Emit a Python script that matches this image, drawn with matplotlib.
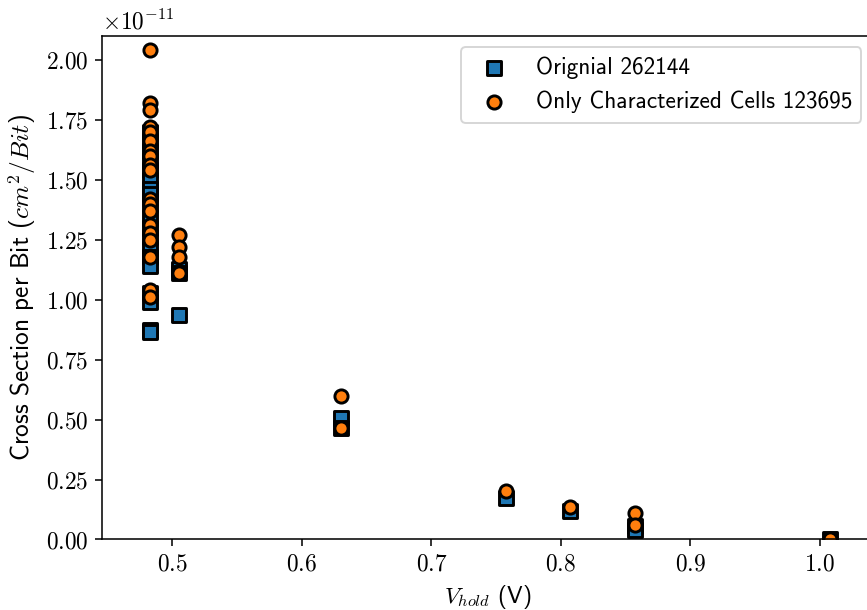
import matplotlib.pyplot as plt
import numpy as np

# Cross section per bit vs hold voltage (values in cm^2/Bit)
# Original: all 262144 cells
x_orig = [0.483] * 19 + [0.505] * 3 + [0.63] * 2 + [0.758, 0.807] + [0.857] * 2 + [1.008]
y_orig = [1.70, 1.66, 1.62, 1.58, 1.54, 1.50, 1.46, 1.44, 1.40, 1.34, 1.30, 1.26,
          1.21, 1.18, 1.14, 1.03, 0.99, 0.875, 0.865,
          1.13, 1.11, 0.936,
          0.507, 0.467,
          0.172, 0.118,
          0.055, 0.040,
          0.0]

# Only characterized cells 123695
x_char = [0.483] * 19 + [0.505] * 4 + [0.63] * 2 + [0.758, 0.807] + [0.857] * 2 + [1.008]
y_char = [2.04, 1.82, 1.79, 1.72, 1.70, 1.66, 1.62, 1.60, 1.56, 1.54, 1.42, 1.40,
          1.37, 1.31, 1.28, 1.25, 1.18, 1.04, 1.01,
          1.27, 1.22, 1.18, 1.11,
          0.598, 0.464,
          0.202, 0.134,
          0.109, 0.060,
          0.0]

y_orig = np.array(y_orig) * 1e-11
y_char = np.array(y_char) * 1e-11

# Computer Modern look (no LaTeX available)
plt.rcParams['font.family'] = 'cmr10'
plt.rcParams['mathtext.fontset'] = 'cm'
plt.rcParams['axes.formatter.use_mathtext'] = True
fontsize = 12
plt.rcParams['font.size'] = fontsize

plt.figure(figsize=(867 / 140, 610 / 140), dpi=140)
ax = plt.gca()
ax.set_position([0.118, 0.1156, 0.889, 0.826])  # W0, H0, W, H

plt.scatter(x_orig, y_orig, marker='s', s=46, c='#1f77b4', edgecolors='black',
            linewidths=1.5, label='Orignial 262144')
plt.scatter(x_char, y_char, marker='o', s=46, c='#ff7f0e', edgecolors='black',
            linewidths=1.5, label='Only Characterized Cells 123695')

plt.xlim([0.4459, 1.0411])
plt.ylim([0, 2.1014e-11])
plt.yticks(np.arange(0, 2.01e-11, 0.25e-11))

plt.xlabel('$V_{hold}$ (V)', family='cmss10', fontsize=fontsize)
plt.ylabel('Cross Section per Bit ($cm^2/Bit$)', family='cmss10', fontsize=13)

plt.legend(loc='upper right', prop={'family': 'cmss10', 'size': fontsize})
plt.savefig('out.png', dpi=140)
